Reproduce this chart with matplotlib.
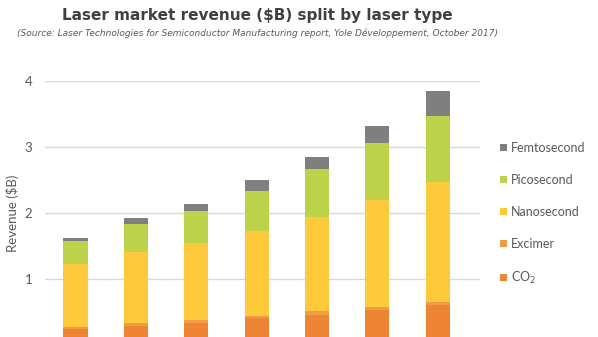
import matplotlib.pyplot as plt
from matplotlib.patches import Patch

# Years are cut off in the source picture; bars are in chronological order
years = ['2016', '2017', '2018', '2019', '2020', '2021', '2022']

co2 = [0.25, 0.29, 0.34, 0.41, 0.46, 0.53, 0.61]
excimer = [0.03, 0.04, 0.04, 0.03, 0.05, 0.05, 0.05]
nanosecond = [0.95, 1.08, 1.17, 1.28, 1.43, 1.61, 1.81]
picosecond = [0.34, 0.42, 0.48, 0.61, 0.72, 0.86, 1.00]
femtosecond = [0.05, 0.09, 0.10, 0.17, 0.18, 0.26, 0.37]

series = [
    ('CO$_2$', co2, '#EE8534'),
    ('Excimer', excimer, '#F39A45'),
    ('Nanosecond', nanosecond, '#FECA3C'),
    ('Picosecond', picosecond, '#BDD24B'),
    ('Femtosecond', femtosecond, '#7F7F7F'),
]

text_gray = '#595959'

fig = plt.figure(figsize=(5.98, 3.37), dpi=100)
# plot area runs past the bottom of the picture (the source is cropped)
ax = fig.add_axes([0.0753, -0.0243, 0.7274, 0.7849])

bottom = [0.0] * len(years)
for name, vals, color in series:
    ax.bar(years, vals, width=0.40, bottom=bottom, color=color, label=name, zorder=3)
    bottom = [b + v for b, v in zip(bottom, vals)]

ax.set_ylim(0, 4)
ax.set_xlim(-0.505, 6.70)
ax.set_yticks([0, 1, 2, 3, 4])
ax.grid(axis='y', color='#D9D9D9', linewidth=1, zorder=0)
for s in ax.spines.values():
    s.set_visible(False)
ax.tick_params(axis='both', length=0, colors=text_gray, labelsize=9.5, pad=9)
for lbl in ax.get_yticklabels() + ax.get_xticklabels():
    lbl.set_family('Lato')
ax.set_ylabel('Revenue ($B)', color=text_gray, fontsize=9.5, family='Lato', labelpad=4)

handles = [Patch(facecolor=c, label=n) for n, _, c in series][::-1]
fig.legend(handles=handles, loc='upper left', bbox_to_anchor=(0.817, 0.612),
           frameon=False, handlelength=0.55, handleheight=0.55, handletextpad=0.35,
           labelspacing=1.6, prop={'family': 'Lato', 'size': 9}, labelcolor=text_gray)

fig.text(0.43, 0.955, 'Laser market revenue ($B) split by laser type',
         ha='center', va='center', fontsize=11, fontweight='bold', color='#404040')
fig.text(0.43, 0.900, '(Source: Laser Technologies for Semiconductor Manufacturing report, '
         'Yole Développement, October 2017)',
         ha='center', va='center', fontsize=6.5, style='italic', color='#595959')

fig.savefig('out.png', dpi=100)
